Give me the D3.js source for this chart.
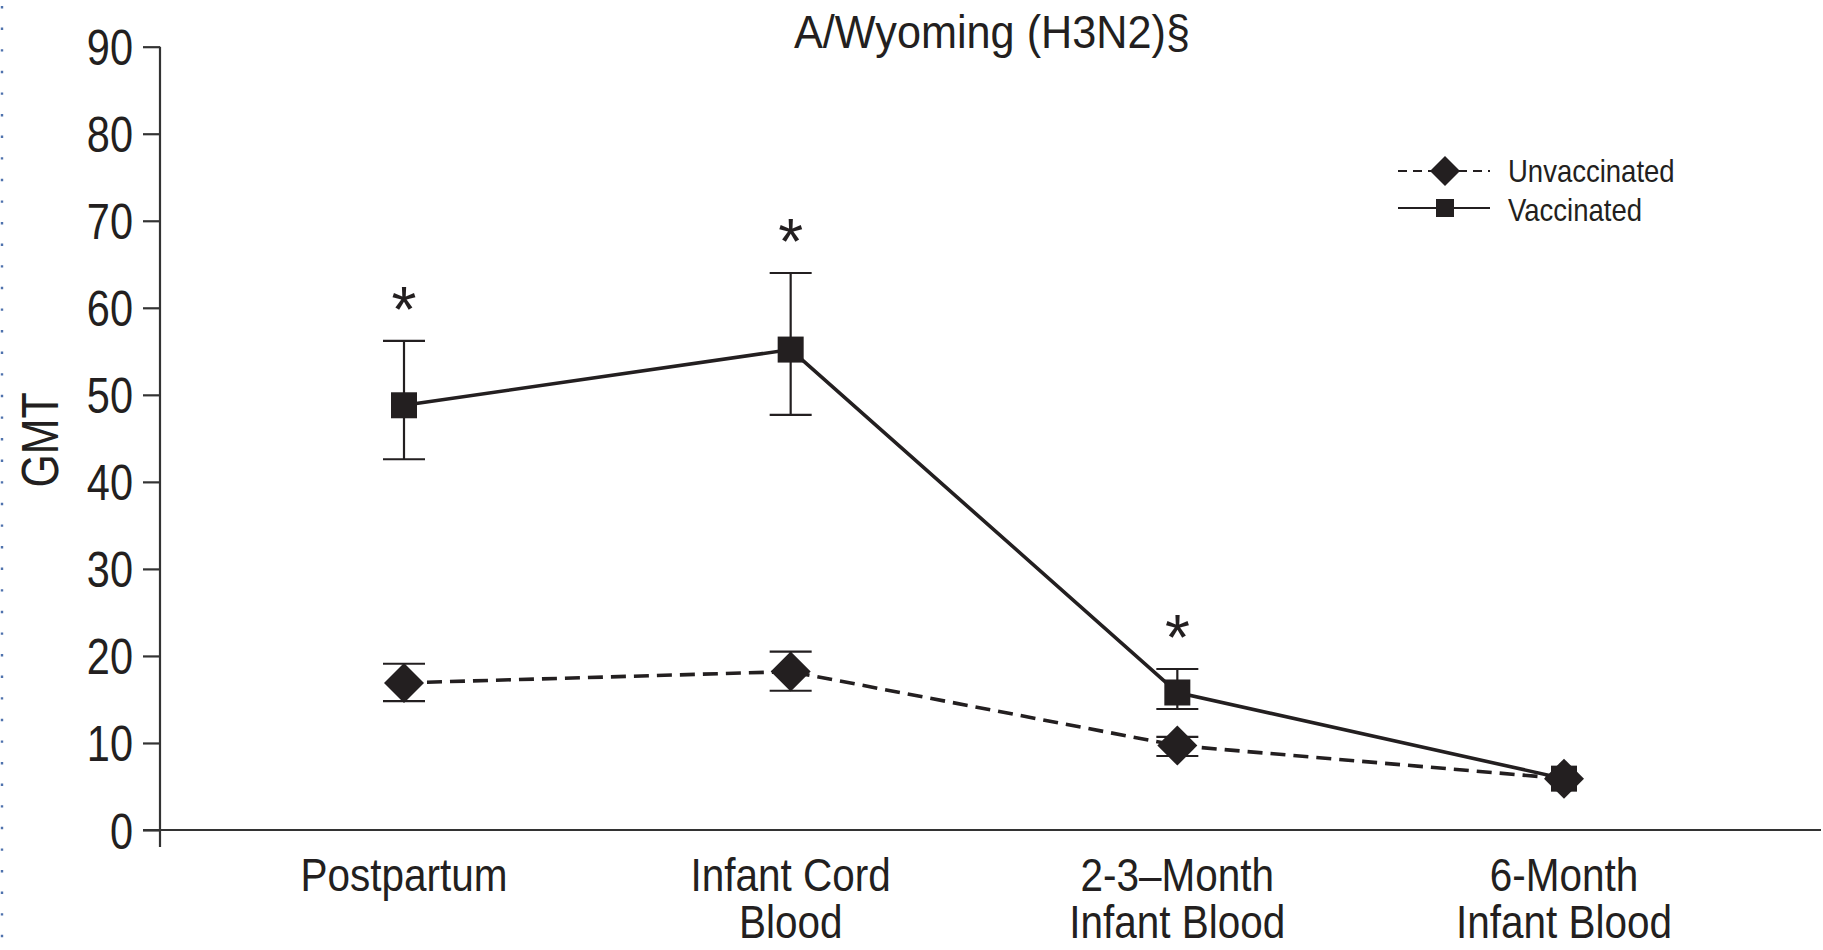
<!DOCTYPE html>
<html>
<head>
<meta charset="utf-8">
<script src="https://cdn.jsdelivr.net/npm/d3@7"></script>
<style>
  html, body { margin: 0; padding: 0; background: #fff; }
  svg { display: block; }
  text { font-family: "Liberation Sans", Arial, sans-serif; fill: #231f20; }
</style>
</head>
<body>
<svg id="chart" width="1823" height="950"></svg>
<script>
// Time points along the x axis (line breaks marked with "|")
const categories = ["Postpartum", "Infant Cord|Blood", "2-3\u2013Month|Infant Blood", "6-Month|Infant Blood"];

// Geometric mean titers with error bar limits
const vaccinated      = [48.8, 55.2, 15.8, 5.9];
const vaccinatedLow   = [42.6, 47.7, 13.9, 5.9];
const vaccinatedHigh  = [56.2, 64.0, 18.5, 5.9];

const unvaccinated     = [16.9, 18.2, 9.7, 5.9];
const unvaccinatedLow  = [14.8, 16.0, 8.5, 5.9];
const unvaccinatedHigh = [19.1, 20.5, 10.7, 5.9];

// Significant differences marked with an asterisk
const significant = [true, true, true, false];

const yTicks = [0, 10, 20, 30, 40, 50, 60, 70, 80, 90];

const svg = d3.select("#chart");

const x = d3.scalePoint().domain(categories).range([404, 1564]);
const y = d3.scaleLinear().domain([0, 90]).range([830, 46.7]);

const axisColor = "#333";
const ink = "#231f20";

// Condensed-looking text: a horizontally squeezed text element
function label(parent, px, py, str, size, squeeze, anchor, rotate) {
  const g = parent.append("g")
    .attr("transform", `translate(${px},${py})${rotate ? ` rotate(${rotate})` : ""} scale(${squeeze},1)`);
  return g.append("text")
    .attr("text-anchor", anchor || "middle")
    .attr("font-size", size)
    .text(str);
}

// Dotted page border on the left
svg.append("line")
  .attr("x1", 2).attr("x2", 2).attr("y1", 6).attr("y2", 950)
  .attr("stroke", "#4f72ad").attr("stroke-width", 2.4)
  .attr("stroke-dasharray", "2.4 19.2");

// Y axis
const yAxis = svg.append("g")
  .attr("transform", "translate(160,0)")
  .call(d3.axisLeft(y).tickValues(yTicks).tickSize(17).tickSizeOuter(0).tickPadding(10));
yAxis.select(".domain").remove();
yAxis.selectAll(".tick line").attr("stroke", axisColor).attr("stroke-width", 2.2);
const squeezeTicks = 0.83;
yAxis.selectAll(".tick text")
  .attr("font-size", 50).attr("fill", "#2a2a2a")
  .attr("font-family", "Liberation Sans, Arial, sans-serif")
  .attr("transform", `scale(${squeezeTicks},1)`)
  .attr("x", -27 / squeezeTicks)
  .attr("dy", "0.36em");
svg.append("line")
  .attr("x1", 160).attr("x2", 160).attr("y1", y(90)).attr("y2", 847)
  .attr("stroke", axisColor).attr("stroke-width", 2.2);

// X axis baseline
svg.append("line")
  .attr("x1", 143).attr("x2", 1821).attr("y1", y(0)).attr("y2", y(0))
  .attr("stroke", axisColor).attr("stroke-width", 2.2);

// Category labels
categories.forEach(c => {
  c.split("|").forEach((part, i) => {
    label(svg, x(c), 891 + i * 47, part, 46, 0.88, "middle");
  });
});

// Y axis title
label(svg, 58, 440, "GMT", 51, 0.84, "middle", -90);

// Chart title
label(svg, 992, 48, "A/Wyoming (H3N2)\u00a7", 47, 0.92, "middle");

const line = d3.line().x(d => x(d.c)).y(d => y(d.v));
const seriesPts = vals => vals.map((v, i) => ({ c: categories[i], v }));

// Connecting lines
svg.append("path")
  .datum(seriesPts(unvaccinated))
  .attr("d", line).attr("fill", "none")
  .attr("stroke", ink).attr("stroke-width", 3.6)
  .attr("stroke-dasharray", "15 8");
svg.append("path")
  .datum(seriesPts(vaccinated))
  .attr("d", line).attr("fill", "none")
  .attr("stroke", ink).attr("stroke-width", 3.6);

// Error bars
function errorBars(low, high) {
  categories.forEach((c, i) => {
    if (low[i] === high[i]) return;
    const g = svg.append("g").attr("stroke", ink).attr("stroke-width", 2.2);
    g.append("line").attr("x1", x(c)).attr("x2", x(c)).attr("y1", y(low[i])).attr("y2", y(high[i]));
    [low[i], high[i]].forEach(v => {
      g.append("line").attr("x1", x(c) - 21).attr("x2", x(c) + 21).attr("y1", y(v)).attr("y2", y(v));
    });
  });
}
errorBars(vaccinatedLow, vaccinatedHigh);
errorBars(unvaccinatedLow, unvaccinatedHigh);

// Markers
const diamond = "M0,-20L20,0L0,20L-20,0Z";
const squareSide = 26;
function drawDiamond(cx, cy) {
  svg.append("path").attr("d", diamond).attr("transform", `translate(${cx},${cy})`).attr("fill", ink);
}
function drawSquare(cx, cy) {
  svg.append("rect")
    .attr("x", cx - squareSide / 2).attr("y", cy - squareSide / 2)
    .attr("width", squareSide).attr("height", squareSide)
    .attr("fill", ink);
}
categories.forEach((c, i) => {
  drawDiamond(x(c), y(unvaccinated[i]));
  drawSquare(x(c), y(vaccinated[i]));
});

// Significance asterisks above vaccinated error bars
categories.forEach((c, i) => {
  if (!significant[i]) return;
  svg.append("text")
    .attr("x", x(c)).attr("y", y(vaccinatedHigh[i]) - 9)
    .attr("text-anchor", "middle")
    .attr("font-size", 64)
    .attr("font-family", "DejaVu Sans, sans-serif")
    .text("*");
});

// Legend
const legend = svg.append("g");
legend.append("line")
  .attr("x1", 1398).attr("x2", 1490).attr("y1", 171).attr("y2", 171)
  .attr("stroke", ink).attr("stroke-width", 2.2).attr("stroke-dasharray", "9 6");
legend.append("path").attr("d", "M0,-15L15,0L0,15L-15,0Z")
  .attr("transform", "translate(1445,171)").attr("fill", ink);
legend.append("line")
  .attr("x1", 1398).attr("x2", 1490).attr("y1", 208).attr("y2", 208)
  .attr("stroke", ink).attr("stroke-width", 2.2);
legend.append("rect")
  .attr("x", 1436).attr("y", 199).attr("width", 18).attr("height", 18).attr("fill", ink);
label(legend, 1508, 182, "Unvaccinated", 32, 0.86, "start");
label(legend, 1508, 221, "Vaccinated", 32, 0.86, "start");
</script>
</body>
</html>
